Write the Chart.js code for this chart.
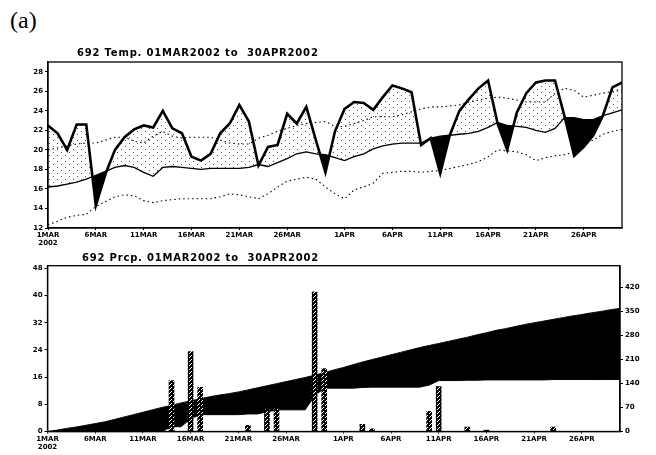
<!DOCTYPE html>
<html>
<head>
<meta charset="utf-8">
<script src="https://cdn.jsdelivr.net/npm/chart.js@4.4.1/dist/chart.umd.min.js"></script>
<style>
  html, body { margin: 0; padding: 0; background: #fff; }
  body { width: 656px; height: 455px; position: relative; overflow: hidden; font-family: "DejaVu Sans", sans-serif; }
  .lbl { position: absolute; white-space: pre; color: #000; z-index: 2; }
  #panel { left: 10px; top: 7px; font: 24px "Liberation Serif", serif; }
  .ttl { font-size: 10px; font-weight: bold; letter-spacing: 0.8px; }
  #t1 { left: 77px; top: 47px; }
  #t2 { left: 82px; top: 252px; }
  .wrap { position: absolute; left: 0; width: 656px; }
  #w1 { top: 40px; height: 205px; }
  #w2 { top: 245px; height: 210px; }
</style>
</head>
<body>
<div id="panel" class="lbl">(a)</div>
<div id="t1" class="lbl ttl">692 Temp. 01MAR2002 to  30APR2002</div>
<div id="t2" class="lbl ttl">692 Prcp. 01MAR2002 to  30APR2002</div>
<div id="w1" class="wrap"><canvas id="tempChart" width="656" height="205"></canvas></div>
<div id="w2" class="wrap"><canvas id="prcpChart" width="656" height="210"></canvas></div>
<script>
// day index 0 = 1 Mar 2002, 60 = 30 Apr 2002
var tickDays   = [0, 5, 10, 15, 20, 25, 31, 36, 41, 46, 51, 56];
var tickLabels = ['1MAR', '6MAR', '11MAR', '16MAR', '21MAR', '26MAR', '1APR', '6APR', '11APR', '16APR', '21APR', '26APR'];
var tempTicks  = [12, 14, 16, 18, 20, 22, 24, 26, 28];
var prcpTicks  = [0, 8, 16, 24, 32, 40, 48];
var cumTicks   = [0, 70, 140, 210, 280, 350, 420];

// observed daily temperature (thick line)
var tempObs = [22.5, 21.7, 20.0, 22.6, 22.6, 14.3, 17.5, 20.0, 21.3, 22.1,
               22.5, 22.3, 24.0, 22.2, 21.7, 19.3, 18.9, 19.6, 21.7, 22.7,
               24.6, 22.9, 18.4, 20.3, 20.5, 23.7, 22.7, 24.4, 21.0, 17.7,
               21.9, 24.2, 24.9, 24.8, 24.1, 25.4, 26.6, 26.3, 25.9, 20.5,
               21.2, 17.6, 21.5, 24.0, 25.2, 26.3, 27.1, 22.7, 20.0, 23.8,
               25.8, 26.9, 27.1, 27.1, 23.4, 19.4, 20.3, 21.5, 23.5, 26.4, 26.9];
// climatological mean (thin line)
var tempMean = [16.2, 16.3, 16.5, 16.7, 17.0, 17.4, 17.8, 18.2, 18.4, 18.2,
                17.7, 17.3, 18.2, 18.3, 18.2, 18.1, 18.0, 18.1, 18.1, 18.1,
                18.1, 18.2, 18.5, 18.3, 18.7, 19.1, 19.6, 19.8, 19.6, 19.5,
                19.2, 18.9, 19.3, 19.6, 20.1, 20.4, 20.6, 20.7, 20.7, 20.7,
                21.2, 21.4, 21.5, 21.6, 21.7, 21.9, 22.3, 22.8, 22.5, 22.4,
                22.3, 22.0, 21.8, 22.2, 23.3, 23.3, 23.1, 23.1, 23.5, 23.8, 24.1];
// mean +/- one std dev (dotted lines)
var tempUpper = [20.0, 20.2, 20.4, 20.6, 20.7, 20.7, 21.0, 21.3, 21.3, 20.9,
                 20.7, 21.4, 21.9, 21.4, 21.2, 21.3, 21.3, 21.3, 21.0, 20.7,
                 20.6, 20.6, 21.2, 21.5, 21.9, 22.2, 22.5, 22.7, 22.8, 22.9,
                 22.4, 22.4, 22.7, 23.0, 23.4, 23.4, 23.4, 23.6, 23.9, 24.2,
                 24.4, 24.4, 24.5, 24.6, 24.9, 25.1, 25.3, 25.4, 25.3, 25.1,
                 24.9, 24.9, 24.9, 25.8, 26.3, 26.1, 25.4, 25.6, 25.8, 26.0, 26.1];
var tempLower = [12.3, 12.7, 13.1, 13.3, 13.4, 14.2, 14.7, 15.2, 15.4, 15.3,
                 14.8, 14.6, 14.8, 14.9, 15.0, 15.0, 15.0, 15.0, 15.2, 15.5,
                 15.4, 15.2, 15.0, 15.5, 16.2, 16.8, 17.0, 17.2, 17.0, 16.2,
                 15.5, 15.0, 15.9, 16.2, 16.6, 17.6, 17.7, 17.8, 17.8, 17.7,
                 17.8, 17.9, 18.1, 18.3, 18.5, 18.8, 19.3, 20.0, 19.9, 19.8,
                 19.5, 18.9, 19.2, 19.4, 19.5, 19.8, 20.5, 21.0, 21.6, 21.9, 22.1];

// daily precipitation, mm (bars, left axis)
var prcpDaily = [0, 0, 0, 0, 0, 0, 0, 0, 0, 0,
                 0, 0, 0, 15.0, 0, 23.5, 13.0, 0, 0, 0,
                 0, 1.8, 0, 6.4, 6.6, 0, 0, 0, 41.0, 18.5,
                 0, 0, 0, 2.1, 0.8, 0, 0, 0, 0, 0,
                 5.9, 13.2, 0, 0, 1.3, 0, 0.4, 0, 0, 0,
                 0, 0, 0, 1.3, 0, 0, 0, 0, 0, 0, 0];
// accumulated precipitation, observed and normal (right axis)
var prcpObsCum = [0, 0, 0, 0, 0, 0, 0, 0, 0, 0,
                  0, 0, 0, 14, 14, 37, 49, 49, 49, 49,
                  49, 51, 51, 57, 63, 63, 63, 63, 104, 126,
                  126, 126, 126, 128, 129, 129, 129, 129, 129, 129,
                  135, 148, 148, 148, 149, 149, 150, 150, 150, 150,
                  150, 150, 150, 151, 151, 151, 151, 151, 151, 151, 151];
var prcpNormCum = [0, 4, 9, 13, 18, 23, 28, 35, 42, 49,
                   56, 63, 70, 76, 83, 89, 95, 101, 106, 110,
                   115, 121, 127, 133, 139, 145, 151, 157, 164, 171,
                   179, 186, 194, 202, 209, 216, 223, 230, 237, 244,
                   250, 256, 262, 268, 274, 281, 287, 294, 299, 305,
                   311, 316, 321, 326, 331, 336, 340, 345, 349, 354, 358];

function xy(arr) {
  return arr.map(function(v, i) { return {x: i, y: v}; });
}

function stipple() {
  var c = document.createElement('canvas');
  c.width = 8; c.height = 6;
  var g = c.getContext('2d');
  g.fillStyle = '#555';
  g.fillRect(1, 1, 1, 1);
  g.fillRect(5, 4, 1, 1);
  return g.createPattern(c, 'repeat');
}

function barHatch() {
  var c = document.createElement('canvas');
  c.width = 4; c.height = 4;
  var g = c.getContext('2d');
  g.fillStyle = '#000';
  g.fillRect(0, 0, 4, 4);
  g.fillStyle = '#fff';
  g.fillRect(1, 0, 1, 1);
  g.fillRect(3, 2, 1, 1);
  g.fillRect(2, 3, 1, 1);
  return g.createPattern(c, 'repeat');
}

var frame = {
  id: 'frame',
  afterDraw: function(chart) {
    var a = chart.chartArea, ctx = chart.ctx;
    ctx.save();
    ctx.strokeStyle = '#000';
    ctx.lineWidth = 1.3;
    ctx.strokeRect(a.left, a.top, a.right - a.left, a.bottom - a.top);
    ctx.restore();
  }
};

var tickFont = {family: 'DejaVu Sans', size: 7, weight: 'bold'};

function dayAxis(h) {
  return {
    type: 'linear', min: 0, max: 60, offset: false,
    afterBuildTicks: function(s) { s.ticks = tickDays.map(function(d) { return {value: d}; }); },
    afterFit: function(s) { s.height = h; },
    ticks: {
      autoSkip: false, maxRotation: 0, padding: 1, color: '#000', font: tickFont,
      callback: function(v) {
        var i = tickDays.indexOf(v);
        if (i < 0) return '';
        return i === 0 ? [tickLabels[0], '2002'] : tickLabels[i];
      }
    },
    grid: {drawOnChartArea: false, offset: false, tickLength: 2, color: '#000'},
    border: {color: '#000', width: 1.3}
  };
}

function valAxis(pos, min, max, ticks, w) {
  return {
    position: pos, min: min, max: max,
    afterBuildTicks: function(s) { s.ticks = ticks.map(function(v) { return {value: v}; }); },
    afterFit: function(s) { s.width = w; },
    ticks: {padding: 2, color: '#000', font: tickFont},
    grid: {drawOnChartArea: false, tickLength: 3, color: '#000'},
    border: {color: '#000', width: 1.3}
  };
}

var dotted = {borderColor: '#000', borderWidth: 1.1, borderDash: [1.5, 3], pointRadius: 0, fill: false, tension: 0};

new Chart(document.getElementById('tempChart').getContext('2d'), {
  type: 'line',
  data: {
    datasets: [
      {data: xy(tempObs), borderColor: '#000', borderWidth: 2.6, pointRadius: 0, tension: 0,
       fill: {target: 1, above: stipple(), below: '#000'}},
      {data: xy(tempMean), borderColor: '#000', borderWidth: 1.3, pointRadius: 0, fill: false, tension: 0},
      Object.assign({data: xy(tempUpper)}, dotted),
      Object.assign({data: xy(tempLower)}, dotted)
    ]
  },
  options: {
    responsive: false,
    animation: false,
    layout: {padding: {top: 22, right: 34, left: 0, bottom: 0}},
    plugins: {legend: {display: false}, tooltip: {enabled: false}},
    scales: {
      x: dayAxis(17),
      y: valAxis('left', 12, 29, tempTicks, 48)
    }
  },
  plugins: [frame]
});

new Chart(document.getElementById('prcpChart').getContext('2d'), {
  type: 'line',
  data: {
    datasets: [
      {type: 'bar', data: xy(prcpDaily), yAxisID: 'y', order: 0,
       backgroundColor: barHatch(), borderWidth: 0, barThickness: 5},
      {data: xy(prcpObsCum), yAxisID: 'y1', order: 1, borderColor: '#000', borderWidth: 1,
       pointRadius: 0, tension: 0, fill: {target: '+1', above: stipple(), below: '#000'}},
      {data: xy(prcpNormCum), yAxisID: 'y1', order: 2, borderColor: '#000', borderWidth: 1,
       pointRadius: 0, tension: 0, fill: false}
    ]
  },
  options: {
    responsive: false,
    animation: false,
    layout: {padding: {top: 20.7, right: 0, left: 0, bottom: 0}},
    plugins: {legend: {display: false}, tooltip: {enabled: false}},
    scales: {
      x: dayAxis(23.5),
      y: valAxis('left', 0, 48.8, prcpTicks, 47.5),
      y1: valAxis('right', 0, 482, cumTicks, 36)
    }
  },
  plugins: [frame]
});
</script>
</body>
</html>
